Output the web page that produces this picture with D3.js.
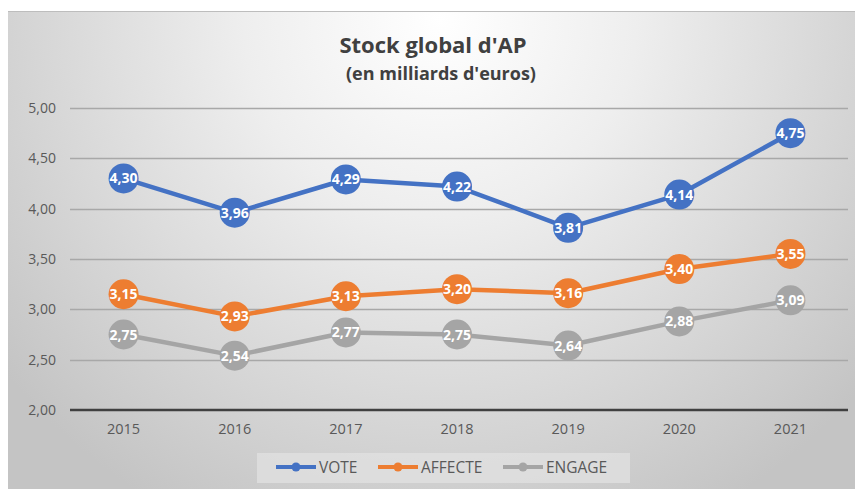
<!DOCTYPE html>
<html><head><meta charset="utf-8">
<script src="https://cdn.jsdelivr.net/npm/d3@7"></script>
<style>html,body{margin:0;padding:0;background:#fff;}svg{display:block;}</style>
</head><body><svg id="c" width="855" height="489"></svg>
<script>
const years = ["2015","2016","2017","2018","2019","2020","2021"];
const vote = [4.30,3.96,4.29,4.22,3.81,4.14,4.75];
const affecte = [3.15,2.93,3.13,3.20,3.16,3.40,3.55];
const engage = [2.75,2.54,2.77,2.75,2.64,2.88,3.09];
const seriesNames = ["VOTE","AFFECTE","ENGAGE"];
const seriesColors = ["#4472C4","#ED7D31","#A5A5A5"];
const yTicks = [2.0,2.5,3.0,3.5,4.0,4.5,5.0];
const title = "Stock global d'AP";
const subtitle = "(en milliards d'euros)";

const svg = d3.select("#c");
const defs = svg.append("defs");
const g = defs.append("radialGradient").attr("id","bg").attr("gradientUnits","userSpaceOnUse")
  .attr("cx",440).attr("cy",20).attr("r",560).attr("fx",440).attr("fy",20);
g.append("stop").attr("offset","0%").attr("stop-color","#ffffff");
g.append("stop").attr("offset","35%").attr("stop-color","#eeeeee");
g.append("stop").attr("offset","100%").attr("stop-color","#c4c4c4");
svg.append("rect").attr("x",8).attr("y",11).attr("width",847).attr("height",478).attr("fill","url(#bg)");
svg.append("line").attr("x1",8).attr("x2",855).attr("y1",11.5).attr("y2",11.5).attr("stroke","#bdbdbd");

const fmt = v => d3.format(".2f")(v).replace(".",",");
const x = d3.scaleBand().domain(years).range([68,846]);
const y = d3.scaleLinear().domain([2,5]).range([410,108]);
const font = "'Open Sans', 'Segoe UI', sans-serif";

// gridlines
svg.append("g").selectAll("line").data(yTicks.filter(t=>t>2)).join("line")
  .attr("x1",70).attr("x2",848).attr("y1",d=>Math.round(y(d))+0.5).attr("y2",d=>Math.round(y(d))+0.5)
  .attr("stroke","#a8a8a8").attr("stroke-width",1.3);
// y axis labels
const ya = svg.append("g").attr("transform","translate(56,0)")
  .call(d3.axisLeft(y).tickValues(yTicks).tickFormat(fmt).tickSize(0).tickPadding(0));
ya.select(".domain").remove();
ya.selectAll("text").attr("font-family",font).attr("font-size",14).attr("fill","#595959");
// x axis
const xa = svg.append("g").attr("transform","translate(0,410)")
  .call(d3.axisBottom(x).tickSize(0).tickPadding(14));
xa.select(".domain").attr("d","M70,0H848").attr("stroke","#404040").attr("stroke-width",2.5);
xa.selectAll("text").attr("font-family",font).attr("font-size",14.5).attr("fill","#595959");

const data = [vote,affecte,engage];
const line = d3.line().x((d,i)=>x(years[i])+x.bandwidth()/2).y(d=>y(d));
data.forEach((s,k)=>{
  svg.append("path").datum(s).attr("d",line).attr("fill","none")
    .attr("stroke",seriesColors[k]).attr("stroke-width",4.5).attr("stroke-linejoin","round");
});
data.forEach((s,k)=>{
  const gg = svg.append("g");
  gg.selectAll("circle").data(s).join("circle")
    .attr("cx",(d,i)=>x(years[i])+x.bandwidth()/2).attr("cy",d=>y(d)).attr("r",15)
    .attr("fill",seriesColors[k]);
  gg.selectAll("text").data(s).join("text")
    .attr("x",(d,i)=>x(years[i])+x.bandwidth()/2).attr("y",d=>y(d)+5)
    .attr("text-anchor","middle").attr("font-family",font).attr("font-weight","bold")
    .attr("font-size",14).attr("fill","#ffffff").text(fmt);
});

// title
svg.append("text").attr("x",433).attr("y",53).attr("text-anchor","middle")
  .attr("font-family",font).attr("font-weight","bold").attr("font-size",22).attr("fill","#404040").text(title);
svg.append("text").attr("x",441).attr("y",80).attr("text-anchor","middle")
  .attr("font-family",font).attr("font-weight","bold").attr("font-size",18).attr("fill","#404040").text(subtitle);

// legend
svg.append("rect").attr("x",257).attr("y",453).attr("width",373).attr("height",30).attr("fill","#e3e3e3").attr("opacity",0.7);
const legX = [276,378,503];
seriesNames.forEach((n,k)=>{
  const lg = svg.append("g").attr("transform",`translate(${legX[k]},467)`);
  lg.append("line").attr("x1",0).attr("x2",40).attr("stroke",seriesColors[k]).attr("stroke-width",4);
  lg.append("circle").attr("cx",20).attr("r",4.5).attr("fill",seriesColors[k]);
  lg.append("text").attr("x",43).attr("y",6).attr("font-family",font).attr("font-size",15.5)
    .attr("fill","#595959").text(n);
});
</script></body></html>
